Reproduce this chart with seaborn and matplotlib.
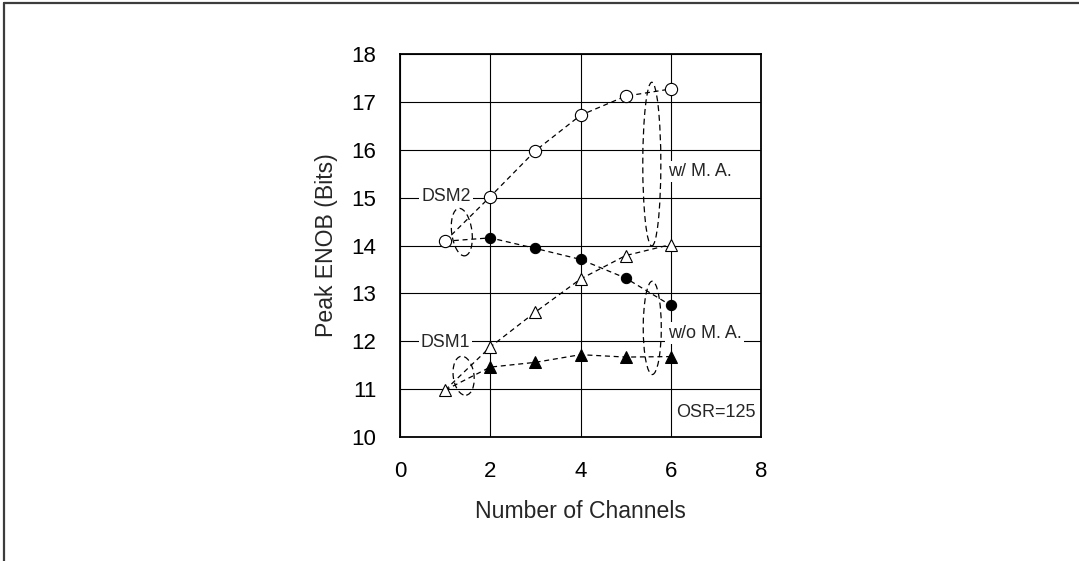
import matplotlib
matplotlib.use("Agg")
import matplotlib.pyplot as plt
from matplotlib.patches import Ellipse
from matplotlib.lines import Line2D
import seaborn as sns

# Peak ENOB versus number of channels (OSR = 125)
channels = [1, 2, 3, 4, 5, 6]
dsm2_with_ma = [14.09, 15.02, 15.98, 16.72, 17.12, 17.27]
dsm2_without_ma = [14.09, 14.16, 13.94, 13.71, 13.32, 12.75]
dsm1_with_ma = [10.98, 11.88, 12.61, 13.30, 13.79, 14.02]
dsm1_without_ma = [10.98, 11.46, 11.56, 11.72, 11.67, 11.68]

x_ticks = [0, 2, 4, 6, 8]
y_ticks = [10, 11, 12, 13, 14, 15, 16, 17, 18]

sns.set_style("white")
plt.rcParams["font.family"] = ["Liberation Sans", "DejaVu Sans"]

fig = plt.figure(figsize=(10.79, 5.61), dpi=100)
ax = fig.add_axes([0.3707, 0.2210, 0.3346, 0.6827])

dash = (0, (4.0, 3.0))
line_kw = dict(color="black", linewidth=0.9, linestyle=dash)

# w/o moving average: line starts at the single-channel point (shared)
sns.lineplot(x=channels, y=dsm2_without_ma, ax=ax, marker="o", markersize=7.4,
             markerfacecolor="black", markeredgecolor="black",
             markevery=[1, 2, 3, 4, 5], zorder=3, **line_kw)
sns.lineplot(x=channels, y=dsm1_without_ma, ax=ax, marker="^", markersize=8.0,
             markerfacecolor="black", markeredgecolor="black",
             markevery=[1, 2, 3, 4, 5], zorder=3, **line_kw)

# w/ moving average: open markers
sns.lineplot(x=channels, y=dsm2_with_ma, ax=ax, marker="o", markersize=8.8,
             markerfacecolor="white", markeredgecolor="black",
             markeredgewidth=0.8, zorder=4, **line_kw)
sns.lineplot(x=channels, y=dsm1_with_ma, ax=ax, marker="^", markersize=9.2,
             markerfacecolor="white", markeredgecolor="black",
             markeredgewidth=0.8, zorder=4, **line_kw)

# dashed grouping ellipses
ell_kw = dict(fill=False, edgecolor="black", linewidth=0.9, linestyle=(0, (4.8, 3.0)), zorder=5)
ax.add_patch(Ellipse((1.37, 14.28), 0.45, 1.0, angle=8, **ell_kw))
ax.add_patch(Ellipse((1.41, 11.28), 0.46, 0.82, angle=8, **ell_kw))
ax.add_patch(Ellipse((5.58, 15.70), 0.40, 3.42, angle=0, **ell_kw))
ax.add_patch(Ellipse((5.59, 12.28), 0.40, 1.95, angle=0, **ell_kw))

txt_box = dict(facecolor="white", edgecolor="none", pad=1.5)
ax.text(1.02, 15.02, "DSM2", fontsize=12.8, ha="center", va="center", bbox=txt_box, zorder=6)
ax.text(1.01, 11.97, "DSM1", fontsize=12.8, ha="center", va="center", bbox=txt_box, zorder=6)
ax.text(5.94, 15.54, "w/ M. A.", fontsize=13, ha="left", va="center", bbox=txt_box, zorder=6)
ax.text(5.93, 12.17, "w/o M. A.", fontsize=13, ha="left", va="center", bbox=txt_box, zorder=6)
ax.text(7.87, 10.51, "OSR=125", fontsize=13, ha="right", va="center", zorder=6)

ax.set_xlim(0, 8)
ax.set_ylim(10, 18)
ax.set_xticks(x_ticks)
ax.set_yticks(y_ticks)
ax.grid(True, color="black", linewidth=0.8)
ax.set_axisbelow(True)
for s in ax.spines.values():
    s.set_visible(True)
    s.set_color("black")
    s.set_linewidth(1.3)
ax.tick_params(axis="both", length=0, labelsize=16, colors="black")
ax.tick_params(axis="y", pad=17)
ax.tick_params(axis="x", pad=17)
ax.set_xlabel("Number of Channels", fontsize=16.6, labelpad=13.5)
ax.set_ylabel("Peak ENOB (Bits)", fontsize=16.6, labelpad=10)

# outer frame (left and top edges)
fig.add_artist(Line2D([0.0033, 0.0033], [0.0, 0.9950], transform=fig.transFigure,
                      color="#3c3c3c", linewidth=1.6))
fig.add_artist(Line2D([0.0033, 1.0], [0.9950, 0.9950], transform=fig.transFigure,
                      color="#3c3c3c", linewidth=1.6))

fig.savefig("out.png", dpi=100)
